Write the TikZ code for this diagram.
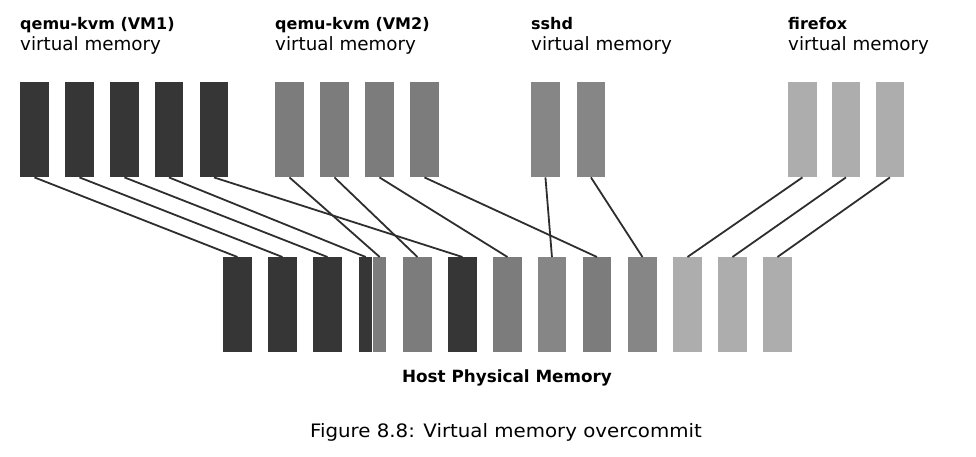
\documentclass[tikz,border=0pt]{standalone}
\usepackage{fontspec}
\setmainfont{DejaVu Sans}
\usepackage{graphicx}
\definecolor{vmone}{HTML}{363636}
\definecolor{vmtwo}{HTML}{7C7C7C}
\definecolor{sshc}{HTML}{868686}
\definecolor{ffx}{HTML}{ADADAD}
\definecolor{linec}{HTML}{2E2E2E}
\tikzset{
  blk/.style={rectangle, inner sep=0pt, minimum width=28.5pt, minimum height=95pt, anchor=north west, draw=none},
  halfblk/.style={rectangle, inner sep=0pt, minimum width=13pt, minimum height=95pt, anchor=north west, draw=none},
  vma/.style={blk, fill=vmone},
  vmb/.style={blk, fill=vmtwo},
  ssh/.style={blk, fill=sshc},
  ffb/.style={blk, fill=ffx},
  conn/.style={draw=linec, line width=1.8pt},
  ttl/.style={anchor=base west, inner sep=0pt, font=\fontsize{16}{19}\selectfont\bfseries},
  sub/.style={anchor=base west, inner sep=0pt, font=\fontsize{18.3}{21}\selectfont},
}
\begin{document}
\begin{tikzpicture}[x=1pt,y=-1pt]
\useasboundingbox (0,0) rectangle (976,457);
% labels
\node[ttl] (t1) at (20,29.5) {qemu-kvm (VM1)};
\node[sub] (s1) at (20,51) {virtual memory};
\node[ttl] (t2) at (275,29.5) {qemu-kvm (VM2)};
\node[sub] (s2) at (275,51) {virtual memory};
\node[ttl] (t3) at (531,29.5) {sshd};
\node[sub] (s3) at (531,51) {virtual memory};
\node[ttl] (t4) at (788,29.5) {firefox};
\node[sub] (s4) at (788,51) {virtual memory};
% top blocks
\node[vma] (a1) at (20,82) {};
\node[vma] (a2) at (65,82) {};
\node[vma] (a3) at (110,82) {};
\node[vma] (a4) at (154.5,82) {};
\node[vma] (a5) at (199.5,82) {};
\node[vmb] (b1) at (275,82) {};
\node[vmb] (b2) at (320,82) {};
\node[vmb] (b3) at (365,82) {};
\node[vmb] (b4) at (410,82) {};
\node[ssh] (c1) at (531,82) {};
\node[ssh] (c2) at (576.5,82) {};
\node[ffb] (f1) at (788,82) {};
\node[ffb] (f2) at (831.5,82) {};
\node[ffb] (f3) at (875.5,82) {};
% bottom blocks
\node[vma] (p1) at (223,257) {};
\node[vma] (p2) at (268,257) {};
\node[vma] (p3) at (313,257) {};
\node[halfblk, fill=vmone] (p4a) at (359,257) {};
\node[halfblk, fill=vmtwo] (p4b) at (373,257) {};
\node[vmb] (p5) at (403,257) {};
\node[vma] (p6) at (448,257) {};
\node[vmb] (p7) at (493,257) {};
\node[ssh] (p8) at (537.5,257) {};
\node[vmb] (p9) at (582.5,257) {};
\node[ssh] (p10) at (628,257) {};
\node[ffb] (p11) at (673,257) {};
\node[ffb] (p12) at (718,257) {};
\node[ffb] (p13) at (763,257) {};
% connectors
\draw[conn] (a1.south) -- (p1.north);
\draw[conn] (a2.south) -- (p2.north);
\draw[conn] (a3.south) -- (p3.north);
\draw[conn] (a4.south) -- (p4a.north);
\draw[conn] (a5.south) -- (p6.north);
\draw[conn] (b1.south) -- (p4b.north);
\draw[conn] (b2.south) -- (p5.north);
\draw[conn] (b3.south) -- (p7.north);
\draw[conn] (b4.south) -- (p9.north);
\draw[conn] (c1.south) -- (p8.north);
\draw[conn] (c2.south) -- (p10.north);
\draw[conn] (f1.south) -- (p11.north);
\draw[conn] (f2.south) -- (p12.north);
\draw[conn] (f3.south) -- (p13.north);
% captions
\node[anchor=base, inner sep=0pt, font=\fontsize{16.8}{20}\selectfont\bfseries] (host) at (507,382) {Host Physical Memory};
\node[anchor=base, inner sep=0pt, font=\fontsize{18.5}{22}\selectfont] (fig) at (506,437.5) {\scalebox{1.07}[1]{Figure 8.8: Virtual memory overcommit}};
\end{tikzpicture}
\end{document}
